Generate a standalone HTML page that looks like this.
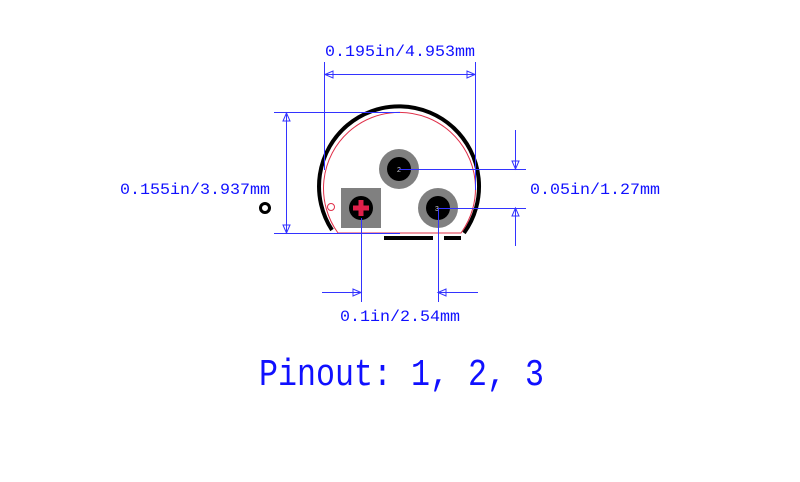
<!DOCTYPE html>
<html><head><style>html,body{margin:0;padding:0;background:#fff;}svg{display:block}</style></head>
<body>
<svg width="800" height="482" viewBox="0 0 800 482" xmlns="http://www.w3.org/2000/svg">
<path d="M332 230 A80 80 0 1 1 464 233" fill="none" stroke="#000" stroke-width="4"/>
<path d="M338 233 A76 76 0 1 1 461 233 Z" fill="none" stroke="#e0304a" stroke-width="1"/>
<g stroke="#3333ff" stroke-width="1" fill="none">
<line x1="324.5" y1="62" x2="324.5" y2="170"/>
<line x1="475.5" y1="62" x2="475.5" y2="190"/>
<line x1="324" y1="74.5" x2="475" y2="74.5"/>
<polygon points="325,74.5 333,71 333,78"/>
<polygon points="475,74.5 467,71 467,78"/>
<line x1="274" y1="112.5" x2="400" y2="112.5"/>
<line x1="274" y1="233.5" x2="400" y2="233.5"/>
<line x1="286.5" y1="112" x2="286.5" y2="233"/>
<polygon points="286.5,113 283,121 290,121"/>
<polygon points="286.5,233 283,225 290,225"/>
<line x1="399" y1="169.5" x2="526" y2="169.5"/>
<line x1="438" y1="208.5" x2="526" y2="208.5"/>
<line x1="515.5" y1="130" x2="515.5" y2="169"/>
<line x1="515.5" y1="208" x2="515.5" y2="246"/>
<polygon points="515.5,169 512,161 519,161"/>
<polygon points="515.5,208 512,216 519,216"/>
<line x1="361.5" y1="208" x2="361.5" y2="302"/>
<line x1="438.5" y1="208" x2="438.5" y2="302"/>
<line x1="322" y1="292.5" x2="361" y2="292.5"/>
<line x1="438" y1="292.5" x2="478" y2="292.5"/>
<polygon points="361,292.5 353,289 353,296"/>
<polygon points="438,292.5 446,289 446,296"/>
</g>
<rect x="341" y="188" width="40" height="40" fill="#808080"/>
<circle cx="361" cy="208" r="12" fill="#000"/>
<rect x="353" y="205.5" width="16" height="5" fill="#e0204a"/>
<rect x="358.5" y="200" width="5" height="16" fill="#e0204a"/>
<circle cx="399" cy="169" r="20" fill="#808080"/>
<circle cx="399" cy="169" r="12" fill="#000"/>
<circle cx="438" cy="208" r="20" fill="#808080"/>
<circle cx="438" cy="208" r="12" fill="#000"/>
<text x="399" y="172" font-family="Liberation Sans,sans-serif" font-size="7" fill="#ccc" text-anchor="middle">2</text>
<text x="437" y="211" font-family="Liberation Sans,sans-serif" font-size="7" fill="#ccc" text-anchor="middle">3</text>
<g stroke="#3333ff" stroke-width="1"><line x1="399" y1="169.5" x2="420" y2="169.5"/><line x1="438" y1="208.5" x2="458" y2="208.5"/><line x1="438.5" y1="208" x2="438.5" y2="228"/><line x1="361.5" y1="218" x2="361.5" y2="228"/></g>
<rect x="384" y="236" width="49" height="4" fill="#000"/>
<rect x="444" y="236" width="17" height="4" fill="#000"/>
<circle cx="331" cy="207" r="3.5" fill="none" stroke="#e0304a" stroke-width="1"/>
<circle cx="265" cy="208" r="4.5" fill="none" stroke="#000" stroke-width="3"/>
<g font-family="Liberation Mono,monospace" fill="#1010ff" font-size="16">
<text x="325" y="56" textLength="150" lengthAdjust="spacingAndGlyphs">0.195in/4.953mm</text>
<text x="120" y="194" textLength="150" lengthAdjust="spacingAndGlyphs">0.155in/3.937mm</text>
<text x="530" y="194" textLength="130" lengthAdjust="spacingAndGlyphs">0.05in/1.27mm</text>
<text x="340" y="321" textLength="120" lengthAdjust="spacingAndGlyphs">0.1in/2.54mm</text>
<text x="259" y="385" font-size="38" textLength="285" lengthAdjust="spacingAndGlyphs">Pinout: 1, 2, 3</text>
</g>
</svg>
</body></html>
